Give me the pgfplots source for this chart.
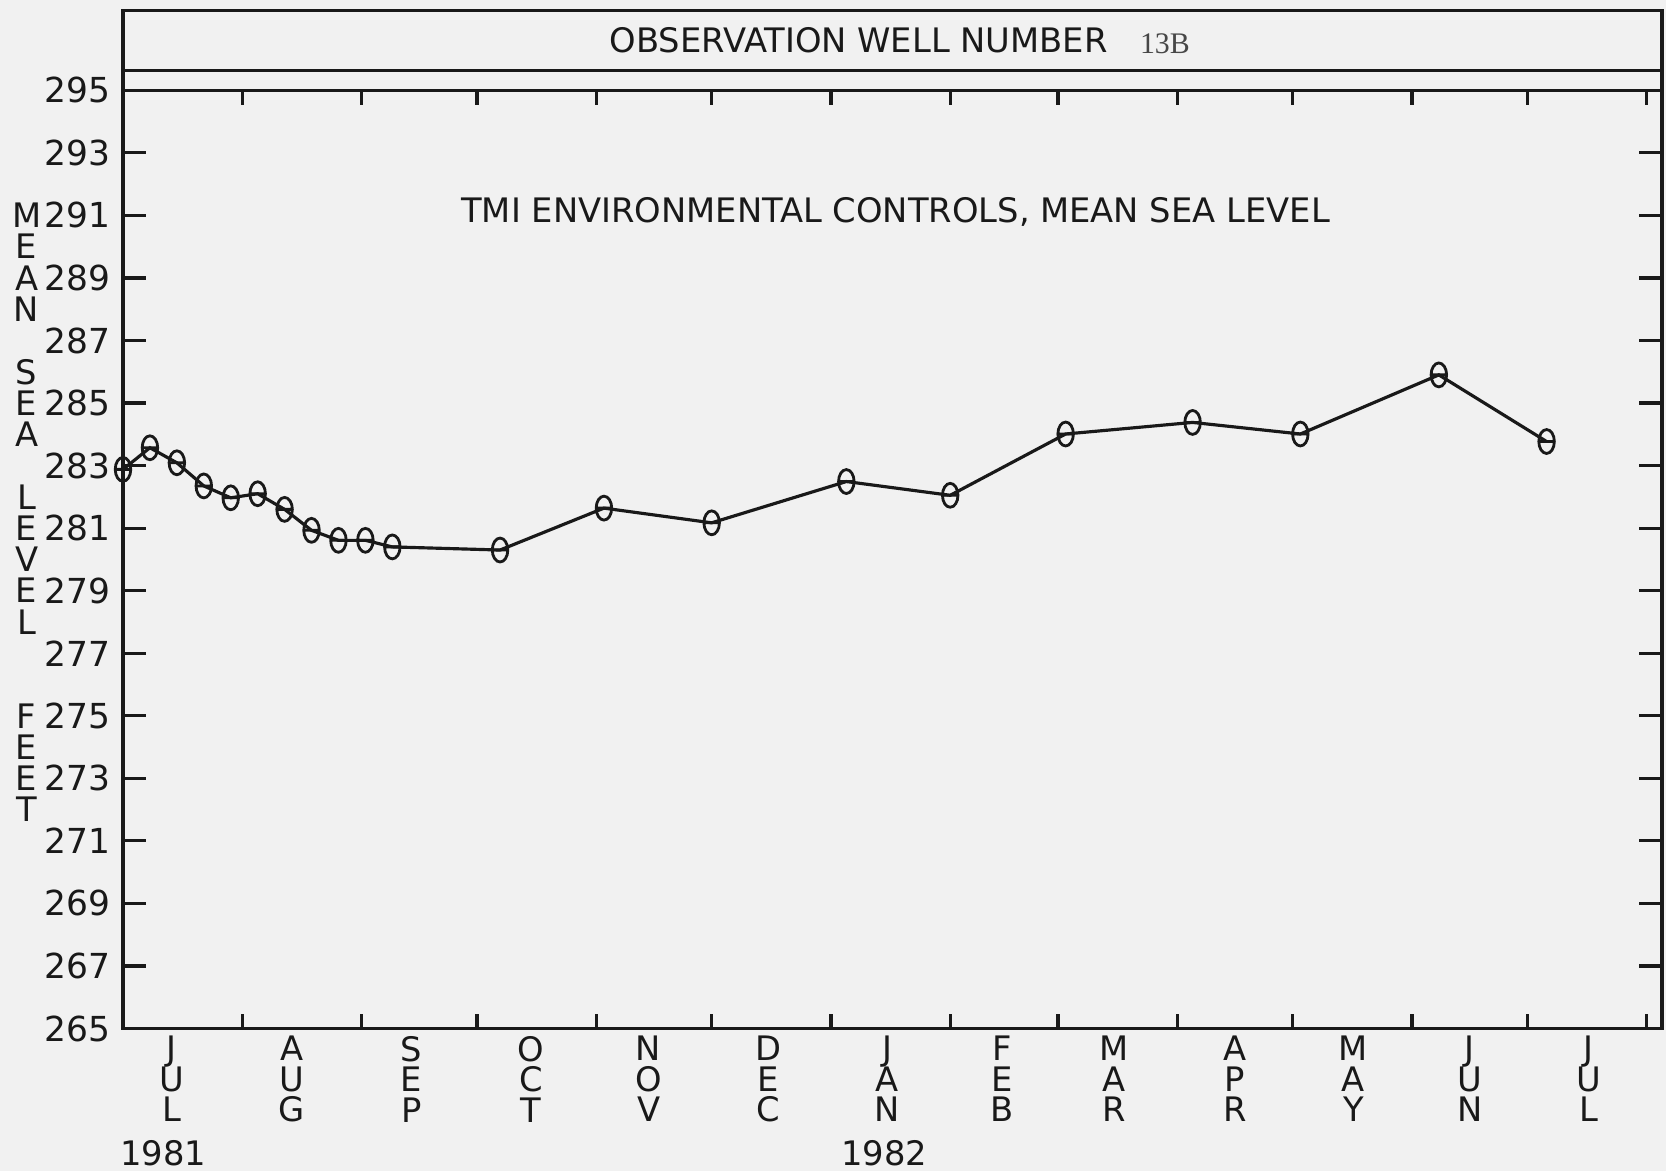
\documentclass[border=0pt]{standalone}
\usepackage{pgfplots}
\pgfplotsset{compat=1.18}
\usepackage{fontspec}
\setmainfont{DejaVu Sans}
\newfontfamily\smallf{Liberation Serif}
\definecolor{bg}{RGB}{241,241,241}
\definecolor{ink}{RGB}{25,25,25}

\pgfdeclareplotmark{theta}{%
  \pgfpathellipse{\pgfpointorigin}{\pgfqpoint{0.65\pgfplotmarksize}{0pt}}{\pgfqpoint{0pt}{\pgfplotmarksize}}%
  \pgfpathmoveto{\pgfqpoint{-0.65\pgfplotmarksize}{0pt}}%
  \pgfpathlineto{\pgfqpoint{0.65\pgfplotmarksize}{0pt}}%
  \pgfusepathqstroke}

\newcommand\lf{\fontsize{9.6}{8.65}\selectfont\lineskiplimit=-20pt\relax}

\begin{document}
\begin{tikzpicture}
\fill[bg] (-1.23,-1.425) rectangle (15.43,10.285);
\path[use as bounding box] (-1.23,-1.425) rectangle (15.43,10.285);
\begin{axis}[
  at={(0,0)}, anchor=south west, scale only axis,
  width=15.39cm, height=9.382cm,
  xmin=0, xmax=400, ymin=265, ymax=295,
  clip=false,
  axis line style={line width=0.9pt, ink},
  every tick/.style={line width=0.9pt, ink},
  every major x tick/.append style={draw=none},
  tick align=inside,
  major tick length=0.23cm,
  minor tick length=0.15cm,
  minor xtick={0,31,62,92,123,153,184,215,243,274,304,335,365,396},
  xtick={12.7,43.9,75,106,136.6,167.8,198.7,228.5,257.7,289,319.8,350,381},
  xticklabels={{J\\U\\L},{A\\U\\G},{S\\E\\P},{O\\C\\T},{N\\O\\V},{D\\E\\C},{J\\A\\N},{F\\E\\B},{M\\A\\R},{A\\P\\R},{M\\A\\Y},{J\\U\\N},{J\\U\\L}},
  xticklabel style={align=center, font=\lf, inner sep=0pt, yshift=-2pt, text=ink},
  ytick={265,267,...,295},
  yticklabel style={font=\fontsize{9.8}{10}\selectfont, text=ink},
  /pgf/number format/assume math mode=true,
]
\draw[line width=0.9pt, ink] (rel axis cs:0,1) -- (rel axis cs:0,1.0852) -- (rel axis cs:1,1.0852) -- (rel axis cs:1,1);
\draw[line width=0.9pt, ink] (rel axis cs:0,1.0208) -- (rel axis cs:1,1.0208);
\node[font=\lf, text=ink] at (rel axis cs:0.478,1.053) {OBSERVATION WELL NUMBER};
\node[font=\smallf\fontsize{8.5}{9}\selectfont, text=ink!80] at (rel axis cs:0.677,1.050) {13B};
\node[font=\lf, text=ink] at (axis cs:200.8,291.1) {TMI ENVIRONMENTAL CONTROLS, MEAN SEA LEVEL};
% vertical y label
\node[font=\lf, text=ink, xshift=-0.964cm] at (axis cs:0,291) {M};
\node[font=\lf, text=ink, xshift=-0.964cm] at (axis cs:0,290) {E};
\node[font=\lf, text=ink, xshift=-0.964cm] at (axis cs:0,289) {A};
\node[font=\lf, text=ink, xshift=-0.964cm] at (axis cs:0,288) {N};
\node[font=\lf, text=ink, xshift=-0.964cm] at (axis cs:0,286) {S};
\node[font=\lf, text=ink, xshift=-0.964cm] at (axis cs:0,285) {E};
\node[font=\lf, text=ink, xshift=-0.964cm] at (axis cs:0,284) {A};
\node[font=\lf, text=ink, xshift=-0.964cm] at (axis cs:0,282) {L};
\node[font=\lf, text=ink, xshift=-0.964cm] at (axis cs:0,281) {E};
\node[font=\lf, text=ink, xshift=-0.964cm] at (axis cs:0,280) {V};
\node[font=\lf, text=ink, xshift=-0.964cm] at (axis cs:0,279) {E};
\node[font=\lf, text=ink, xshift=-0.964cm] at (axis cs:0,278) {L};
\node[font=\lf, text=ink, xshift=-0.964cm] at (axis cs:0,275) {F};
\node[font=\lf, text=ink, xshift=-0.964cm] at (axis cs:0,274) {E};
\node[font=\lf, text=ink, xshift=-0.964cm] at (axis cs:0,273) {E};
\node[font=\lf, text=ink, xshift=-0.964cm] at (axis cs:0,272) {T};
% years
\node[font=\lf, text=ink, yshift=-1.243cm] at (axis cs:10.5,265) {1981};
\node[font=\lf, text=ink, yshift=-1.243cm] at (axis cs:197.8,265) {1982};
\addplot[ink, line width=0.9pt, mark=theta, mark size=3.4pt, mark options={line width=0.8pt}] coordinates {
(0,282.88) (7,283.57) (14,283.09) (21,282.35) (28,281.97) (35,282.10)
(42,281.60) (49,280.93) (56,280.61) (63,280.61) (70,280.40) (98,280.30)
(125,281.64) (153,281.17) (188,282.49) (215,282.05) (245,284.01)
(278,284.38) (306,284.01) (342,285.90) (370,283.77)
};
\end{axis}
\end{tikzpicture}
\end{document}
